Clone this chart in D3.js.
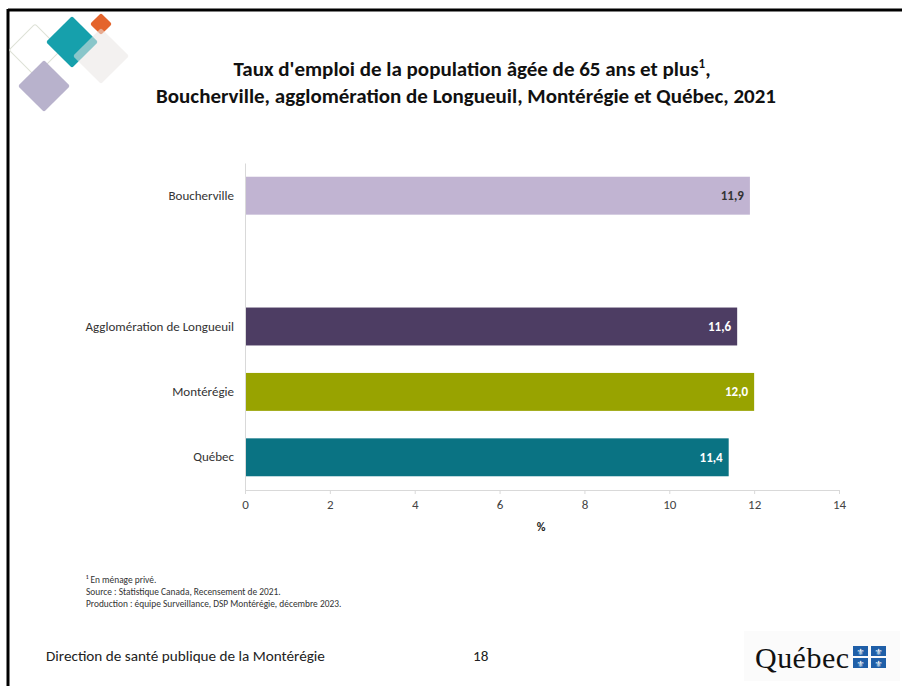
<!DOCTYPE html>
<html><head><meta charset="utf-8">
<script src="https://cdn.jsdelivr.net/npm/d3@7/dist/d3.min.js"></script>
<style>
body{margin:0;background:#fff;}
text{font-family:Carlito,Lato,"Open Sans",sans-serif;}
</style></head>
<body><svg id="c" width="902" height="686"></svg>
<script>
const categories = ["Boucherville", "", "Agglomération de Longueuil", "Montérégie", "Québec"];
const values = [11.9, null, 11.6, 12.0, 11.4];
const valueLabels = ["11,9", "", "11,6", "12,0", "11,4"];
const colors = ["#c1b4d2", "#ffffff", "#4d3d63", "#98a300", "#0a7383"];
const labelColors = ["#333333", "#fff", "#ffffff", "#ffffff", "#ffffff"];
const xTicks = [0, 2, 4, 6, 8, 10, 12, 14];
const titleLines = ["Taux d'emploi de la population âgée de 65 ans et plus", "Boucherville, agglomération de Longueuil, Montérégie et Québec, 2021"];
const notes = ["¹ En ménage privé.", "Source : Statistique Canada, Recensement de 2021.", "Production : équipe Surveillance, DSP Montérégie, décembre 2023."];

const svg = d3.select("#c");

// frame
svg.append("line").attr("x1",8).attr("x2",902).attr("y1",10).attr("y2",10).attr("stroke","#000").attr("stroke-width",3);
svg.append("line").attr("x1",8).attr("x2",8).attr("y1",9).attr("y2",686).attr("stroke","#000").attr("stroke-width",3);

// decorative logo
const deco = svg.append("g");
function diamond(cx, cy, h, fill, stroke, op){
  deco.append("rect").attr("x",-h/Math.SQRT2).attr("y",-h/Math.SQRT2).attr("width",h*Math.SQRT2).attr("height",h*Math.SQRT2)
    .attr("rx",2).attr("transform",`translate(${cx},${cy}) rotate(45)`)
    .attr("fill",fill).attr("stroke",stroke||"none").attr("stroke-width",1).attr("fill-opacity",op==null?1:op);
}
diamond(35,50,26,"none","#dde1d6");
diamond(44,86,26,"#b8b2cc");
diamond(72,42,26,"#16a0ac");
diamond(101,24,11,"#e4642c");
diamond(101,56,28,"#e9e6e3",null,0.55);

// title
const title = svg.append("text").attr("text-anchor","middle").attr("font-weight","bold").attr("font-size",21).attr("fill","#111");
title.append("tspan").attr("x",472).attr("y",76).text(titleLines[0]).append("tspan").attr("font-size",13).attr("dy",-8).text("1");
title.append("tspan").attr("dy",8).text(",");
title.append("tspan").attr("x",466).attr("y",103).text(titleLines[1]);

// chart
const x = d3.scaleLinear().domain([0,14]).range([245,839]);
const y = d3.scaleBand().domain(categories.map((c,i)=>i)).range([163,490]).paddingInner(0.42).paddingOuter(0.21);

const data = categories.map((c,i)=>({c, v: values[i], lab: valueLabels[i], col: colors[i], lc: labelColors[i], i}));

svg.selectAll("rect.bar").data(data.filter(d=>d.v!=null)).join("rect").attr("class","bar")
  .attr("x",x(0)).attr("y",d=>y(d.i)).attr("width",d=>x(d.v)-x(0)).attr("height",y.bandwidth()).attr("fill",d=>d.col);

svg.selectAll("text.val").data(data.filter(d=>d.v!=null)).join("text").attr("class","val")
  .attr("x",d=>x(d.v)-6).attr("y",d=>y(d.i)+y.bandwidth()/2).attr("dy","0.35em").attr("text-anchor","end")
  .attr("font-size",13).attr("font-weight","bold").attr("fill",d=>d.lc).text(d=>d.lab);

// y axis
const yAxis = svg.append("g").attr("transform",`translate(${x(0)},0)`)
  .call(d3.axisLeft(y).tickSize(0).tickPadding(11).tickFormat(i=>categories[i]));
yAxis.select(".domain").attr("stroke","#d9d9d9");
yAxis.selectAll("text").attr("font-size",13).attr("fill","#333").style("font-family","Carlito,Lato,sans-serif");

// x axis
const xAxis = svg.append("g").attr("transform",`translate(0,490)`)
  .call(d3.axisBottom(x).tickValues(xTicks).tickSize(4).tickSizeOuter(0).tickPadding(6).tickFormat(d3.format("d")));
xAxis.select(".domain").attr("stroke","#d9d9d9");
xAxis.selectAll(".tick line").attr("stroke","#d9d9d9");
xAxis.selectAll("text").attr("font-size",13).attr("fill","#444").style("font-family","Carlito,Lato,sans-serif");

svg.append("text").attr("x",541).attr("y",531).attr("text-anchor","middle").attr("font-size",12).attr("font-weight","bold").attr("fill","#222").text("%");

// notes
svg.selectAll("text.note").data(notes).join("text").attr("class","note")
  .attr("x",86).attr("y",(d,i)=>583+i*12).attr("font-size",9.4).attr("fill","#333").text(d=>d);

// footer
svg.append("text").attr("x",46).attr("y",661).attr("font-size",15.2).attr("fill","#222").text("Direction de santé publique de la Montérégie");
svg.append("text").attr("x",473).attr("y",661).attr("font-size",15.2).attr("fill","#222").text("18");

// Québec logo
const lg = svg.append("g");
lg.append("rect").attr("x",744).attr("y",631).attr("width",156).attr("height",50).attr("fill","#fbfbfb");
lg.append("text").attr("x",755).attr("y",668).attr("font-size",30).attr("fill","#111").style("font-family","'Liberation Serif',serif").attr("textLength",94).text("Québec");
[[853,646],[871,646],[853,658],[871,658]].forEach(p=>{
  lg.append("rect").attr("x",p[0]).attr("y",p[1]).attr("width",15).attr("height",10).attr("fill","#1f5fa8");
  lg.append("text").attr("x",p[0]+7.5).attr("y",p[1]+8.5).attr("text-anchor","middle").attr("font-size",9).attr("fill","#fff").style("font-family","'DejaVu Sans'").text("⚜");
});
</script></body></html>
